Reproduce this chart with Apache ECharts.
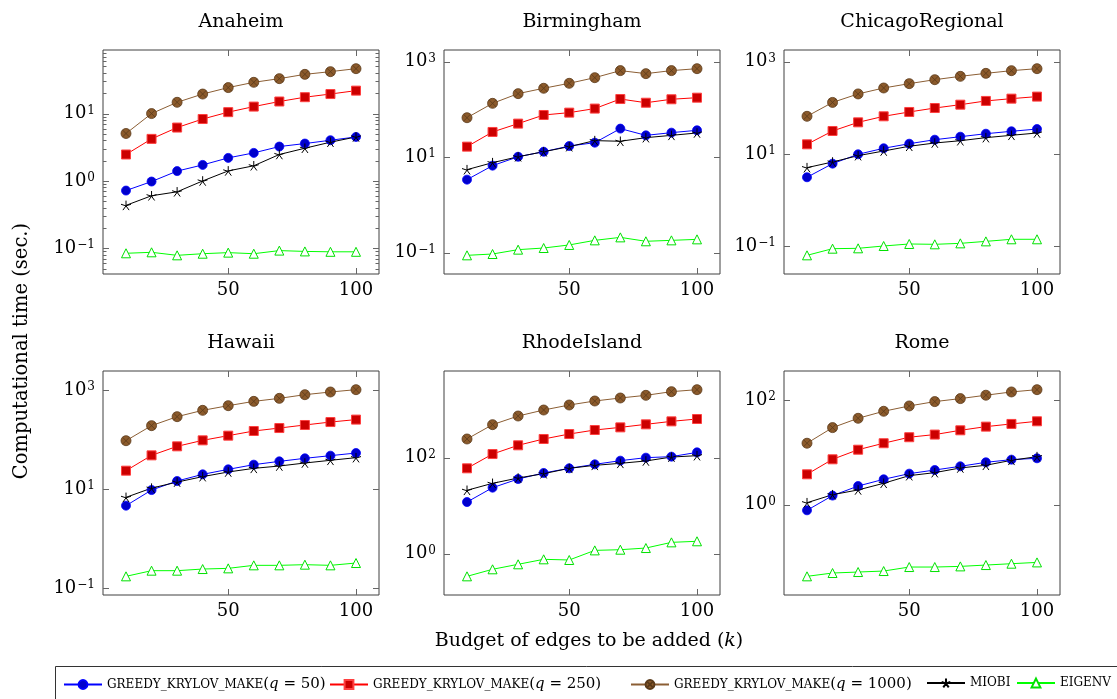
<!DOCTYPE html>
<html><head><meta charset="utf-8">
<script src="https://cdn.jsdelivr.net/npm/echarts@6/dist/echarts.min.js"></script>
<style>html,body{margin:0;padding:0;background:#fff}#c{width:1117px;height:699px}</style>
</head><body><div id="c"></div>
<script>
// ---------- data ----------
const K = [10, 20, 30, 40, 50, 60, 70, 80, 90, 100];
const X_TICKS = [50, 100];
const SERIES_NAMES = ['GREEDY_KRYLOV_MAKE(q = 50)', 'GREEDY_KRYLOV_MAKE(q = 250)', 'GREEDY_KRYLOV_MAKE(q = 1000)', 'MIOBI', 'EIGENV'];
const TITLES = ['Anaheim', 'Birmingham', 'ChicagoRegional', 'Hawaii', 'RhodeIsland', 'Rome'];

const anaheimQ50    = [0.72, 0.98, 1.40, 1.73, 2.20, 2.61, 3.24, 3.59, 4.02, 4.50];
const anaheimQ250   = [2.47, 4.21, 6.20, 8.30, 10.5, 12.7, 15.1, 17.5, 19.5, 21.9];
const anaheimQ1000  = [5.06, 10.0, 14.7, 19.5, 24.3, 29.1, 33.0, 38.2, 41.9, 46.4];
const anaheimMiobi  = [0.434, 0.603, 0.69, 1.0, 1.41, 1.68, 2.47, 3.06, 3.76, 4.5];
const anaheimEigenv = [0.0844, 0.0873, 0.0787, 0.0832, 0.0863, 0.0832, 0.0925, 0.090, 0.0888, 0.0888];

const birminghamQ50    = [3.38, 6.64, 10.2, 13.0, 17.1, 20.1, 39.6, 28.6, 32.6, 36.5];
const birminghamQ250   = [16.6, 33.7, 50.4, 76.4, 85.6, 104, 165, 138, 163, 176];
const birminghamQ1000  = [67, 134, 214, 277, 352, 462, 649, 561, 649, 713];
const birminghamMiobi  = [5.47, 7.67, 10.2, 13.0, 16.6, 22.2, 21.5, 25.6, 28.6, 32.1];
const birminghamEigenv = [0.0879, 0.0937, 0.1156, 0.125, 0.145, 0.181, 0.209, 0.173, 0.181, 0.19];

const chicagoQ50    = [3.13, 6.18, 9.85, 13.3, 16.7, 20.4, 23.7, 27.5, 31.0, 34.7];
const chicagoQ250   = [16.2, 31.5, 48.5, 65.5, 81.3, 99, 117, 141, 158, 175];
const chicagoQ1000  = [65.5, 131, 200, 269, 334, 407, 481, 558, 638, 705];
const chicagoMiobi  = [5.06, 6.71, 9.2, 11.6, 14.7, 17.3, 19.4, 22.6, 25.4, 28.5];
const chicagoEigenv = [0.0638, 0.0889, 0.0905, 0.1017, 0.1124, 0.1105, 0.116, 0.128, 0.142, 0.142];

const hawaiiQ50    = [4.65, 9.6, 14.6, 19.9, 25.1, 31.2, 36.4, 41.9, 47.4, 53.6];
const hawaiiQ250   = [23.6, 48.1, 73.1, 96.6, 120, 149, 171, 197, 226, 253];
const hawaiiQ1000  = [95, 191, 290, 389, 483, 590, 679, 805, 912, 1016];
const hawaiiMiobi  = [6.84, 10.5, 13.9, 17.9, 22.2, 26.3, 29.3, 33.7, 38.2, 43.2];
const hawaiiEigenv = [0.1746, 0.227, 0.227, 0.245, 0.253, 0.291, 0.291, 0.30, 0.291, 0.324];

const rhodeQ50    = [11.9, 23.7, 35.9, 48, 60, 72.6, 86.6, 100, 105, 129];
const rhodeQ250   = [60, 119, 181, 245, 311, 377, 428, 495, 571, 639];
const rhodeQ1000  = [245, 487, 738, 984, 1251, 1516, 1751, 1990, 2373, 2611];
const rhodeMiobi  = [20.9, 29.2, 37.7, 46.4, 60, 69.2, 76.2, 85.3, 103, 110];
const rhodeEigenv = [0.337, 0.472, 0.60, 0.762, 0.738, 1.17, 1.21, 1.31, 1.72, 1.81];

const romeQ50    = [0.78, 1.49, 2.27, 3.05, 3.91, 4.59, 5.4, 6.44, 7.24, 7.68];
const romeQ250   = [3.8, 7.35, 11.2, 14.9, 19.4, 21.8, 26.3, 30.9, 34.8, 39.1];
const romeQ1000  = [14.9, 29.6, 44.6, 60.7, 76.7, 92.9, 106, 123, 142, 157];
const romeMiobi  = [1.09, 1.55, 1.91, 2.56, 3.58, 4.09, 5.02, 5.65, 7.03, 8.26];
const romeEigenv = [0.0428, 0.0495, 0.0517, 0.054, 0.0644, 0.0644, 0.0663, 0.0703, 0.0746, 0.079];

// y tick exponents (labels 10^n)
const anaheimExps = [-1, 0, 1];
const birminghamExps = [-1, 1, 3];
const chicagoExps = [-1, 1, 3];
const hawaiiExps = [-1, 1, 3];
const rhodeExps = [0, 2];
const romeExps = [0, 2];

const PANEL_SERIES = [
  [anaheimQ50, anaheimQ250, anaheimQ1000, anaheimMiobi, anaheimEigenv],
  [birminghamQ50, birminghamQ250, birminghamQ1000, birminghamMiobi, birminghamEigenv],
  [chicagoQ50, chicagoQ250, chicagoQ1000, chicagoMiobi, chicagoEigenv],
  [hawaiiQ50, hawaiiQ250, hawaiiQ1000, hawaiiMiobi, hawaiiEigenv],
  [rhodeQ50, rhodeQ250, rhodeQ1000, rhodeMiobi, rhodeEigenv],
  [romeQ50, romeQ250, romeQ1000, romeMiobi, romeEigenv]
];
const PANEL_EXPS = [anaheimExps, birminghamExps, chicagoExps, hawaiiExps, rhodeExps, romeExps];
const PANEL_MINOR = [true, false, false, false, false, false];

// ---------- styles / layout ----------
const FONT = 'DejaVu Serif';
const GRID_LEFTS = [103, 444, 784];
const GRID_TOPS = [50, 371];
const GW = 276, GH = 224;
const TICK_COLOR = '#666666';
const FRAME_COLOR = '#404040';

const OTIMES = 'path://M0,10A10,10,0,1,1,20,10A10,10,0,1,1,0,10Z M2.93,2.93L17.07,17.07 M17.07,2.93L2.93,17.07';
const STAR = 'path://M10,10L10,0 M10,10L19.51,6.91 M10,10L15.88,18.09 M10,10L4.12,18.09 M10,10L0.49,6.91';

const STYLES = [
  {line: '#0000ff', symbol: 'circle', size: 9, item: {color: '#0000cc', borderColor: '#0000ff', borderWidth: 0.8}},
  {line: '#ff0000', symbol: 'rect', size: 9, item: {color: '#cc0000', borderColor: '#ff4040', borderWidth: 1}},
  {line: '#8b5e34', symbol: OTIMES, size: 10, item: {color: '#8b5a2b', borderColor: '#5a3a1a', borderWidth: 0.8}},
  {line: '#000000', symbol: STAR, size: 10, item: {color: '#000000', borderColor: '#000000', borderWidth: 1}},
  {line: '#00ff00', symbol: 'triangle', size: 9, item: {color: '#ffffff', borderColor: '#00e000', borderWidth: 1}}
];

function expLabel(v) {
  const e = Math.round(v);
  const s = String(e).replace('-', '\u2212');
  return '{b|10}{s|' + s + '}';
}
const Y_RICH = {
  b: {fontFamily: FONT, fontSize: 18, color: '#000'},
  s: {fontFamily: FONT, fontSize: 12, color: '#000', verticalAlign: 'top', padding: [0, 0, 0, 1]}
};

const option = {animation: false, grid: [], xAxis: [], yAxis: [], series: [], legend: [], graphic: []};
const panelAxes = [];

PANEL_SERIES.forEach((seriesVals, i) => {
  const gl = GRID_LEFTS[i % 3], gt = GRID_TOPS[Math.floor(i / 3)];
  option.grid.push({left: gl, top: gt, width: GW, height: GH, show: true,
    borderColor: FRAME_COLOR, borderWidth: 1});

  const xr = K[K.length - 1] - K[0];
  const xIdx = option.xAxis.length;
  option.xAxis.push({type: 'value', gridIndex: i, position: 'bottom',
    min: K[0] - 0.1 * xr, max: K[K.length - 1] + 0.1 * xr, splitLine: {show: false},
    axisLine: {show: false, onZero: false}, axisTick: {show: false},
    axisLabel: {customValues: X_TICKS, fontFamily: FONT, fontSize: 18, color: '#000', margin: 7}});

  const logs = [].concat(...seriesVals).map(v => Math.log10(v));
  const lmin = Math.min(...logs), lmax = Math.max(...logs);
  const lo = lmin - 0.1 * (lmax - lmin), hi = lmax + 0.1 * (lmax - lmin);

  const yIdx = option.yAxis.length;
  option.yAxis.push({type: 'log', logBase: 10, gridIndex: i, min: Math.pow(10, lo), max: Math.pow(10, hi), show: false});
  option.yAxis.push({type: 'value', gridIndex: i, position: 'left', min: lo, max: hi, splitLine: {show: false},
    axisLine: {show: false, onZero: false}, axisTick: {show: false},
    axisLabel: {customValues: PANEL_EXPS[i], formatter: expLabel, rich: Y_RICH, margin: 8}});

  const minors = [];
  if (PANEL_MINOR[i]) {
    for (let e = Math.floor(lo); e <= Math.ceil(hi); e++) {
      for (let m = 2; m <= 9; m++) {
        const t = e + Math.log10(m);
        if (t > lo && t < hi) minors.push(Math.pow(10, t));
      }
    }
  }
  panelAxes.push({xIdx, yIdx, gl, gt, majors: PANEL_EXPS[i].map(e => Math.pow(10, e)), minors});

  seriesVals.forEach((vals, j) => {
    const st = STYLES[j];
    option.series.push({
      type: 'line', name: SERIES_NAMES[j], xAxisIndex: xIdx, yAxisIndex: yIdx,
      data: K.map((k, n) => [k, vals[n]]),
      symbol: st.symbol, symbolSize: st.size, symbolKeepAspect: true, showSymbol: true,
      lineStyle: {color: st.line, width: 1}, itemStyle: st.item, color: st.line,
      emphasis: {disabled: true}, silent: true
    });
  });

  option.graphic.push({type: 'text', id: 'title' + i, x: gl + GW / 2, y: gt - 28, silent: true,
    style: {text: TITLES[i], font: '19px "DejaVu Serif"', fill: '#000', textAlign: 'center', textVerticalAlign: 'middle'}});
});

// legend
const LEGEND_X = [63, 329, 630, 926, 1016];
function legendFmt(name) {
  const m = name.match(/^([A-Z_]+)(\(q = (\d+)\))?$/);
  let s = '{sc|' + m[1] + '}';
  if (m[2]) s += '{n|(}{i|q}{n| = ' + m[3] + ')}';
  return s;
}
const LEG_RICH = {
  sc: {fontFamily: FONT, fontSize: 12, color: '#000'},
  n: {fontFamily: FONT, fontSize: 15, color: '#000'},
  i: {fontFamily: FONT, fontSize: 15, fontStyle: 'italic', color: '#000'}
};
SERIES_NAMES.forEach((n, j) => {
  option.legend.push({data: [n], left: LEGEND_X[j], top: 677, itemWidth: 38, itemHeight: 11, itemGap: 0,
    padding: 0, selectedMode: false, formatter: legendFmt, textStyle: {rich: LEG_RICH, fontFamily: FONT}});
});

option.graphic.push(
  {type: 'rect', id: 'legendBox', silent: true, shape: {x: 55.5, y: 666.5, width: 1200, height: 60},
    style: {fill: 'none', stroke: '#333', lineWidth: 1}},
  {type: 'text', id: 'xname', silent: true, x: 589, y: 641,
    style: {text: '{n|Budget of edges to be added (}{i|k}{n|)}', textAlign: 'center', textVerticalAlign: 'middle',
      rich: {n: {fontFamily: FONT, fontSize: 19, fill: '#000'}, i: {fontFamily: FONT, fontSize: 19, fontStyle: 'italic', fill: '#000'}}}},
  {type: 'text', id: 'yname', silent: true, x: 22, y: 351, rotation: Math.PI / 2,
    style: {text: 'Computational time (sec.)', font: '19.5px "DejaVu Serif"', fill: '#000', textAlign: 'center', textVerticalAlign: 'middle'}}
);

const chart = echarts.init(document.getElementById('c'), null, {renderer: 'canvas'});
chart.setOption(option);

// tick marks placed through the axes' own scales
const ticks = [];
let tid = 0;
function seg(x1, y1, x2, y2) {
  ticks.push({type: 'line', id: 'tick' + (tid++), silent: true, z: 10,
    shape: {x1, y1, x2, y2}, style: {stroke: TICK_COLOR, lineWidth: 1}});
}
panelAxes.forEach(p => {
  const bottom = p.gt + GH, right = p.gl + GW;
  X_TICKS.forEach(v => {
    const px = Math.round(chart.convertToPixel({xAxisIndex: p.xIdx}, v)) + 0.5;
    seg(px, bottom, px, bottom - 6);
    seg(px, p.gt, px, p.gt + 6);
  });
  p.majors.forEach(v => {
    const py = Math.round(chart.convertToPixel({yAxisIndex: p.yIdx}, v)) + 0.5;
    seg(p.gl, py, p.gl + 6, py);
    seg(right, py, right - 6, py);
  });
  p.minors.forEach(v => {
    const py = Math.round(chart.convertToPixel({yAxisIndex: p.yIdx}, v)) + 0.5;
    seg(p.gl, py, p.gl + 3.5, py);
    seg(right, py, right - 3.5, py);
  });
});
chart.setOption({graphic: option.graphic.concat(ticks)});
</script></body></html>
